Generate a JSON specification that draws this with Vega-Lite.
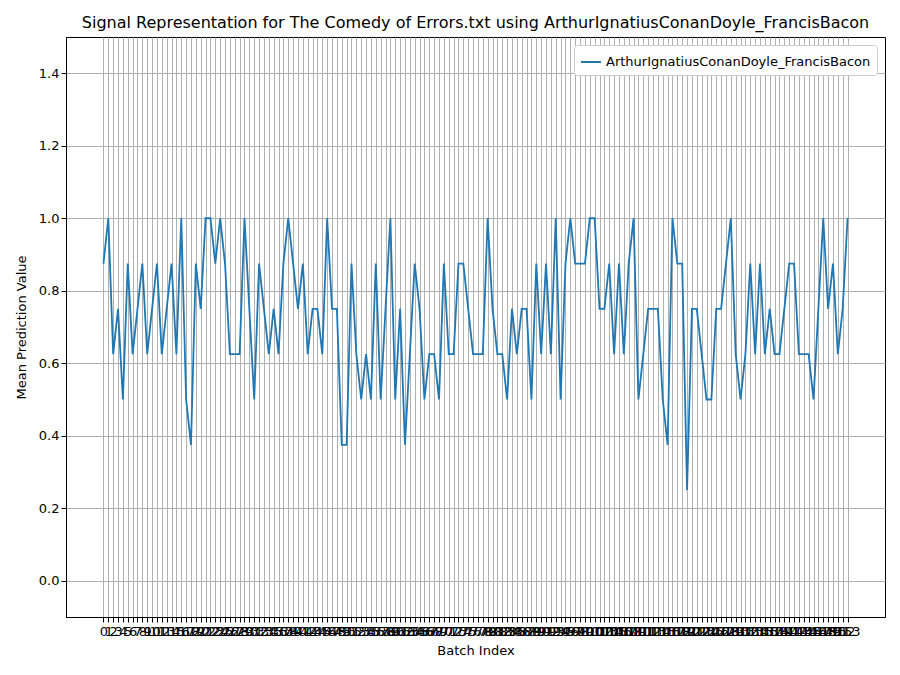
{"$schema":"https://vega.github.io/schema/vega-lite/v6.json","width":819,"height":580,"autosize":"none","padding":{"left":66,"top":37,"right":15,"bottom":58},"background":"white","title":{"text":"Signal Representation for The Comedy of Errors.txt using ArthurIgnatiusConanDoyle_FrancisBacon","font":"DejaVu Sans","fontSize":16,"fontWeight":"normal","offset":6,"color":"black"},"config":{"font":"DejaVu Sans","view":{"stroke":"black"},"axis":{"gridColor":"#b0b0b0","gridWidth":1,"gridOpacity":1,"domainColor":"black","tickColor":"black","labelColor":"black","titleColor":"black","labelFontSize":13,"titleFontSize":13,"titleFontWeight":"normal","labelFont":"DejaVu Sans","titleFont":"DejaVu Sans"}},"data":{"values":[{"i":0,"v":0.875},{"i":1,"v":1.0},{"i":2,"v":0.625},{"i":3,"v":0.75},{"i":4,"v":0.5},{"i":5,"v":0.875},{"i":6,"v":0.625},{"i":7,"v":0.75},{"i":8,"v":0.875},{"i":9,"v":0.625},{"i":10,"v":0.75},{"i":11,"v":0.875},{"i":12,"v":0.625},{"i":13,"v":0.75},{"i":14,"v":0.875},{"i":15,"v":0.625},{"i":16,"v":1.0},{"i":17,"v":0.5},{"i":18,"v":0.375},{"i":19,"v":0.875},{"i":20,"v":0.75},{"i":21,"v":1.0},{"i":22,"v":1.0},{"i":23,"v":0.875},{"i":24,"v":1.0},{"i":25,"v":0.875},{"i":26,"v":0.625},{"i":27,"v":0.625},{"i":28,"v":0.625},{"i":29,"v":1.0},{"i":30,"v":0.75},{"i":31,"v":0.5},{"i":32,"v":0.875},{"i":33,"v":0.75},{"i":34,"v":0.625},{"i":35,"v":0.75},{"i":36,"v":0.625},{"i":37,"v":0.875},{"i":38,"v":1.0},{"i":39,"v":0.875},{"i":40,"v":0.75},{"i":41,"v":0.875},{"i":42,"v":0.625},{"i":43,"v":0.75},{"i":44,"v":0.75},{"i":45,"v":0.625},{"i":46,"v":1.0},{"i":47,"v":0.75},{"i":48,"v":0.75},{"i":49,"v":0.375},{"i":50,"v":0.375},{"i":51,"v":0.875},{"i":52,"v":0.625},{"i":53,"v":0.5},{"i":54,"v":0.625},{"i":55,"v":0.5},{"i":56,"v":0.875},{"i":57,"v":0.5},{"i":58,"v":0.75},{"i":59,"v":1.0},{"i":60,"v":0.5},{"i":61,"v":0.75},{"i":62,"v":0.375},{"i":63,"v":0.625},{"i":64,"v":0.875},{"i":65,"v":0.75},{"i":66,"v":0.5},{"i":67,"v":0.625},{"i":68,"v":0.625},{"i":69,"v":0.5},{"i":70,"v":0.875},{"i":71,"v":0.625},{"i":72,"v":0.625},{"i":73,"v":0.875},{"i":74,"v":0.875},{"i":75,"v":0.75},{"i":76,"v":0.625},{"i":77,"v":0.625},{"i":78,"v":0.625},{"i":79,"v":1.0},{"i":80,"v":0.75},{"i":81,"v":0.625},{"i":82,"v":0.625},{"i":83,"v":0.5},{"i":84,"v":0.75},{"i":85,"v":0.625},{"i":86,"v":0.75},{"i":87,"v":0.75},{"i":88,"v":0.5},{"i":89,"v":0.875},{"i":90,"v":0.625},{"i":91,"v":0.875},{"i":92,"v":0.625},{"i":93,"v":1.0},{"i":94,"v":0.5},{"i":95,"v":0.875},{"i":96,"v":1.0},{"i":97,"v":0.875},{"i":98,"v":0.875},{"i":99,"v":0.875},{"i":100,"v":1.0},{"i":101,"v":1.0},{"i":102,"v":0.75},{"i":103,"v":0.75},{"i":104,"v":0.875},{"i":105,"v":0.625},{"i":106,"v":0.875},{"i":107,"v":0.625},{"i":108,"v":0.875},{"i":109,"v":1.0},{"i":110,"v":0.5},{"i":111,"v":0.625},{"i":112,"v":0.75},{"i":113,"v":0.75},{"i":114,"v":0.75},{"i":115,"v":0.5},{"i":116,"v":0.375},{"i":117,"v":1.0},{"i":118,"v":0.875},{"i":119,"v":0.875},{"i":120,"v":0.25},{"i":121,"v":0.75},{"i":122,"v":0.75},{"i":123,"v":0.625},{"i":124,"v":0.5},{"i":125,"v":0.5},{"i":126,"v":0.75},{"i":127,"v":0.75},{"i":128,"v":0.875},{"i":129,"v":1.0},{"i":130,"v":0.625},{"i":131,"v":0.5},{"i":132,"v":0.625},{"i":133,"v":0.875},{"i":134,"v":0.625},{"i":135,"v":0.875},{"i":136,"v":0.625},{"i":137,"v":0.75},{"i":138,"v":0.625},{"i":139,"v":0.625},{"i":140,"v":0.75},{"i":141,"v":0.875},{"i":142,"v":0.875},{"i":143,"v":0.625},{"i":144,"v":0.625},{"i":145,"v":0.625},{"i":146,"v":0.5},{"i":147,"v":0.75},{"i":148,"v":1.0},{"i":149,"v":0.75},{"i":150,"v":0.875},{"i":151,"v":0.625},{"i":152,"v":0.75},{"i":153,"v":1.0}]},"transform":[{"calculate":"'ArthurIgnatiusConanDoyle_FrancisBacon'","as":"s"}],"mark":{"type":"line","strokeWidth":1.8},"encoding":{"x":{"field":"i","type":"quantitative","scale":{"domain":[-7.7,160.7],"nice":false,"zero":false},"axis":{"title":"Batch Index","values":[0,1,2,3,4,5,6,7,8,9,10,11,12,13,14,15,16,17,18,19,20,21,22,23,24,25,26,27,28,29,30,31,32,33,34,35,36,37,38,39,40,41,42,43,44,45,46,47,48,49,50,51,52,53,54,55,56,57,58,59,60,61,62,63,64,65,66,67,68,69,70,71,72,73,74,75,76,77,78,79,80,81,82,83,84,85,86,87,88,89,90,91,92,93,94,95,96,97,98,99,100,101,102,103,104,105,106,107,108,109,110,111,112,113,114,115,116,117,118,119,120,121,122,123,124,125,126,127,128,129,130,131,132,133,134,135,136,137,138,139,140,141,142,143,144,145,146,147,148,149,150,151,152,153],"labelOverlap":false,"labelFlush":false,"labelAngle":0,"labelPadding":3,"titlePadding":6}},"y":{"field":"v","type":"quantitative","scale":{"domain":[-0.1,1.5],"nice":false,"zero":false},"axis":{"title":"Mean Prediction Value","values":[0,0.2,0.4,0.6,0.8,1.0,1.2,1.4],"format":".1f","titlePadding":10}},"color":{"field":"s","type":"nominal","scale":{"range":["#1f77b4"]},"legend":{"title":null,"orient":"top-right","offset":8,"strokeColor":"#cccccc","fillColor":"white","padding":6,"cornerRadius":3,"labelFontSize":13,"labelLimit":0,"symbolType":"stroke","symbolStrokeWidth":2,"symbolSize":400,"labelFont":"DejaVu Sans"}}}}
